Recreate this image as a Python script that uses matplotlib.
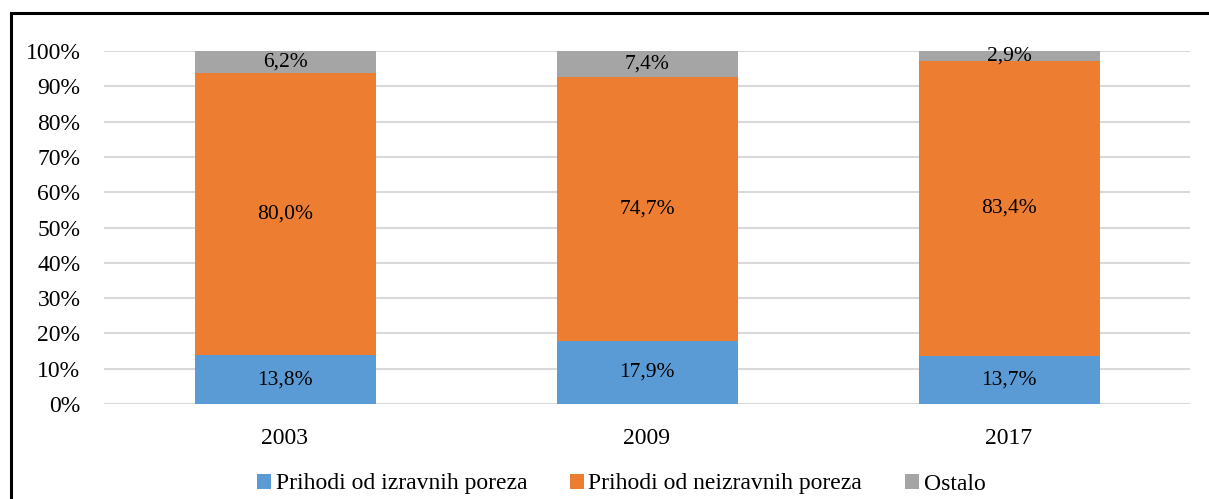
import matplotlib.pyplot as plt
from matplotlib.patches import Rectangle
import numpy as np

years = ['2003', '2009', '2017']
izravni = [13.8, 17.9, 13.7]
neizravni = [80.0, 74.7, 83.4]
ostalo = [6.2, 7.4, 2.9]
series_names = ['Prihodi od izravnih poreza', 'Prihodi od neizravnih poreza', 'Ostalo']
colors = ['#5B9BD5', '#ED7D31', '#A5A5A5']

plt.rcParams['font.family'] = ['Liberation Serif', 'DejaVu Serif']

fig = plt.figure(figsize=(12.09, 4.99), dpi=100)
ax = fig.add_axes([104 / 1209, 1 - 404 / 499, 1086 / 1209, 353 / 499])

x = np.arange(len(years))
bottom = np.zeros(len(years))
for vals, name, col in zip([izravni, neizravni, ostalo], series_names, colors):
    vals = np.array(vals)
    ax.bar(x, vals, 0.5, bottom=bottom, color=col, label=name, zorder=2)
    for xi, b, v in zip(x, bottom, vals):
        ax.text(xi, b + v / 2, f'{v:.1f}%'.replace('.', ','), ha='center', va='center',
                fontsize=15.5, color='black', zorder=3)
    bottom += vals

ax.set_xlim(-0.5, 2.5)
ax.set_ylim(0, 100)
ax.set_yticks(range(0, 101, 10))
ax.set_yticklabels([f'{t}%' for t in range(0, 101, 10)])
ax.set_xticks(x)
ax.set_xticklabels(years)
ax.tick_params(axis='both', length=0, labelsize=17)
ax.tick_params(axis='y', pad=17)
ax.tick_params(axis='x', pad=17)
ax.grid(axis='y', color='#D9D9D9', linewidth=1.5, zorder=0)
for s in ax.spines.values():
    s.set_visible(False)

handles, labels = ax.get_legend_handles_labels()
fig.legend(handles, labels, loc='center', bbox_to_anchor=(621 / 1209, 1 - 484 / 499),
           ncol=3, frameon=False, fontsize=17, handlelength=0.6, handleheight=0.6,
           handletextpad=0.2, columnspacing=1.8, borderaxespad=0)

fig.add_artist(Rectangle((11 / 1209, -0.1), 1.2, 1 - 13.5 / 499 + 0.1, transform=fig.transFigure,
                         fill=False, edgecolor='black', linewidth=2.2))

fig.savefig('out.png', dpi=100)
